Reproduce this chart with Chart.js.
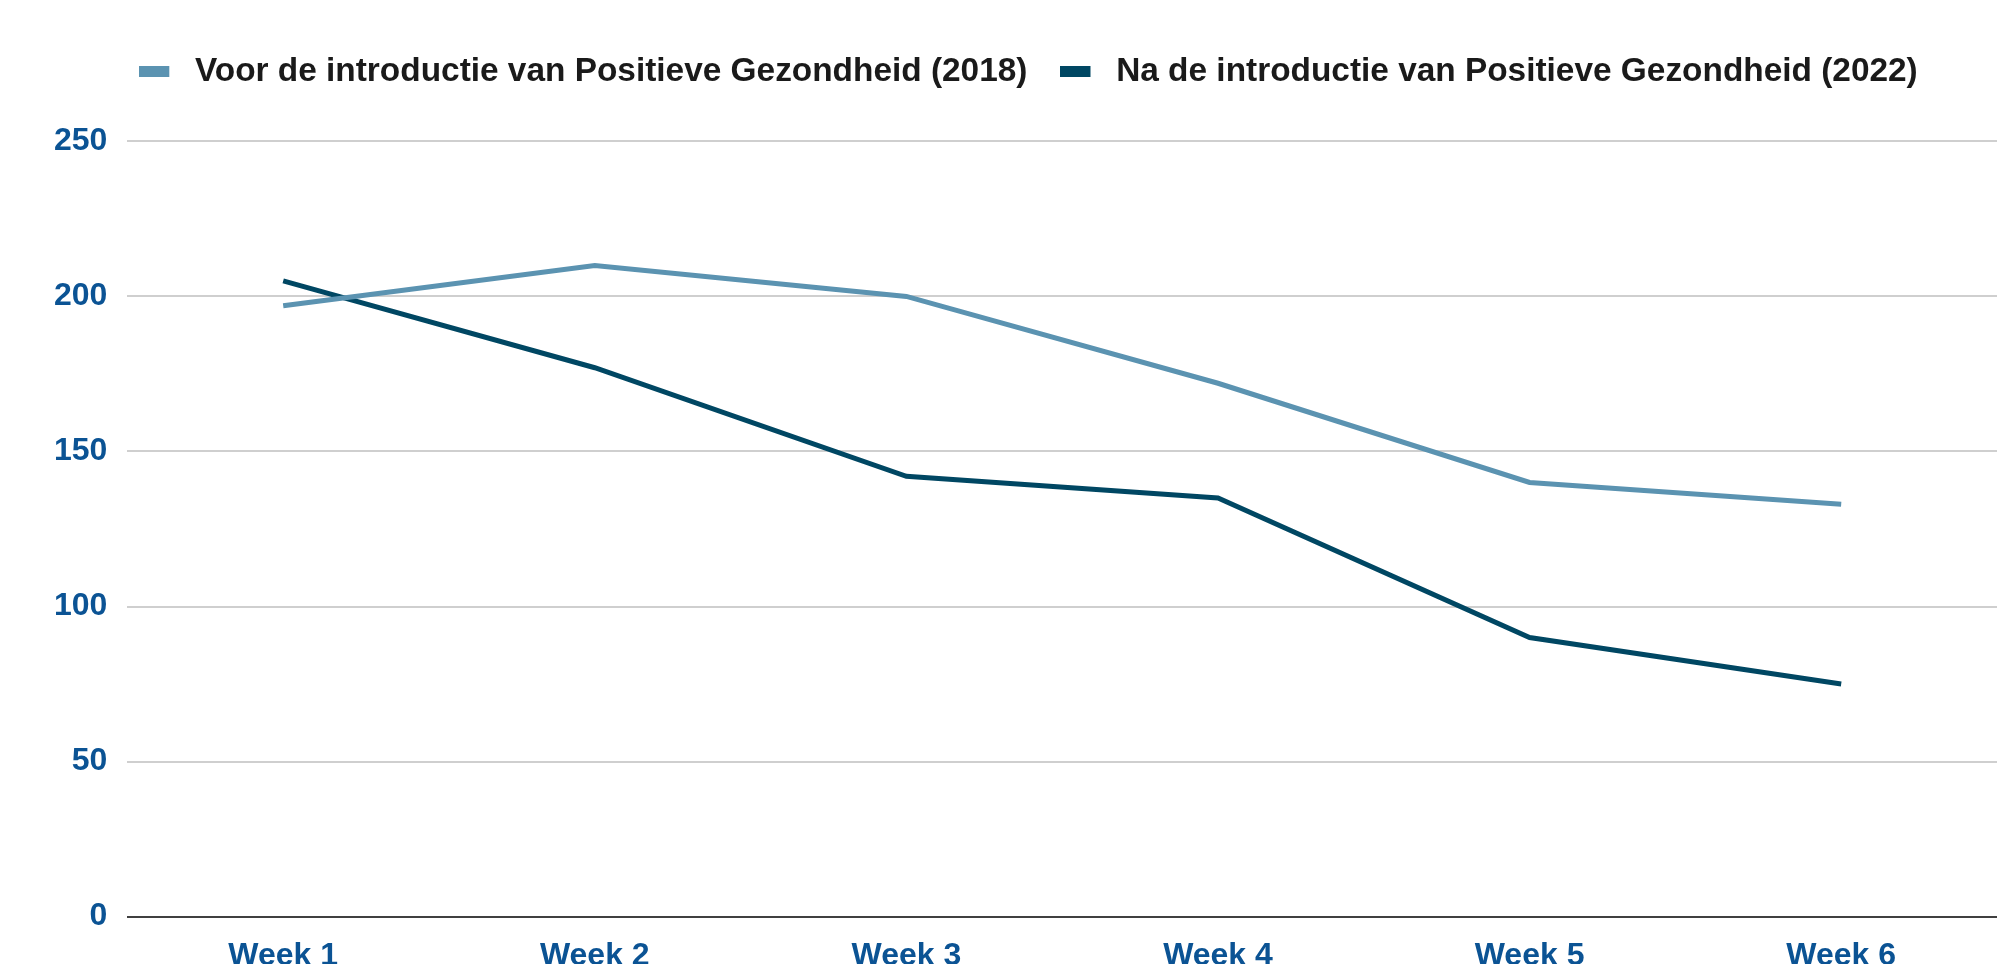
<!DOCTYPE html>
<html>
<head>
<meta charset="utf-8">
<script src="https://cdn.jsdelivr.net/npm/chart.js@4"></script>
<style>
html, body { margin:0; padding:0; background:#fff; overflow:hidden; width:1997px; height:964px; }
#wrap { position:absolute; left:0; top:0; width:1997px; height:995px; }
</style>
</head>
<body>
<div id="wrap"><canvas id="c"></canvas></div>
<script>
const categories = ['Week 1', 'Week 2', 'Week 3', 'Week 4', 'Week 5', 'Week 6'];
const seriesNames = ['Voor de introductie van Positieve Gezondheid (2018)', 'Na de introductie van Positieve Gezondheid (2022)'];
const before2018 = [197, 210, 200, 172, 140, 133];
const after2022 = [205, 177, 142, 135, 90, 75];
const yTicks = [0, 50, 100, 150, 200, 250];
const seriesColors = ['#5b93b1', '#004763'];

const FONT = "'Liberation Sans', Arial, sans-serif";

function legendSwatch(color) {
  const c = document.createElement('canvas');
  c.width = 39; c.height = 11;
  const g = c.getContext('2d');
  g.fillStyle = color;
  g.fillRect(0, 0, 30, 11);
  return c;
}

const legendSpacer = {
  id: 'legendSpacer',
  beforeLayout(chart) {
    if (chart.legend && !chart.legend._patched) {
      const orig = chart.legend.fit;
      chart.legend.fit = function () { orig.call(this); this.height += 43; };
      chart.legend._patched = true;
    }
  },
  afterLayout(chart) {
    if (chart.legend) {
      chart.legend.left += 13;
      chart.legend.right += 13;
    }
  }
};

new Chart(document.getElementById('c'), {
  type: 'line',
  data: {
    labels: categories,
    datasets: [
      { label: seriesNames[0], data: before2018, borderColor: seriesColors[0], backgroundColor: seriesColors[0], pointStyle: legendSwatch(seriesColors[0]), borderWidth: 5, pointRadius: 0, tension: 0 },
      { label: seriesNames[1], data: after2022, borderColor: seriesColors[1], backgroundColor: seriesColors[1], pointStyle: legendSwatch(seriesColors[1]), borderWidth: 5, pointRadius: 0, tension: 0 }
    ]
  },
  plugins: [legendSpacer],
  options: {
    responsive: true,
    maintainAspectRatio: false,
    animation: false,
    layout: { padding: { left: 34, right: 0, top: 22, bottom: 0 } },
    plugins: {
      legend: {
        position: 'top',
        labels: {
          usePointStyle: true,
          pointStyleWidth: 39,
          boxHeight: 11, padding: 33,
          color: '#1a1a1a',
          font: { family: FONT, size: 33.4, weight: 'bold' }
        }
      },
      tooltip: { enabled: false }
    },
    scales: {
      x: {
        offset: true,
        grid: { display: false, drawTicks: false },
        border: { display: false },
        ticks: { color: '#0b5394', padding: 20, font: { family: FONT, size: 32, weight: 'bold' } }
      },
      y: {
        min: 0, max: 250,
        afterBuildTicks: (axis) => { axis.ticks = yTicks.map(v => ({ value: v })); },
        grid: {
          drawTicks: false,
          lineWidth: 2,
          color: (ctx) => (ctx.tick && ctx.tick.value === 0) ? '#404040' : '#cfcfcf'
        },
        border: { display: false },
        ticks: { color: '#0b5394', padding: 20, font: { family: FONT, size: 32, weight: 'bold' } }
      }
    }
  }
});
</script>
</body>
</html>
